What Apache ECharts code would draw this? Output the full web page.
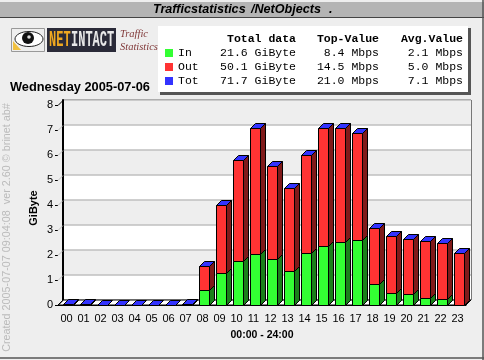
<!DOCTYPE html>
<html><head><meta charset="utf-8">
<script src="https://cdn.jsdelivr.net/npm/echarts@6/dist/echarts.min.js"></script>
<style>html,body{margin:0;padding:0;background:#eee}#c{width:484px;height:360px}</style>
</head><body><div id="c"></div>
<script>
const hours=['00','01','02','03','04','05','06','07','08','09','10','11','12','13','14','15','16','17','18','19','20','21','22','23'];
const inValues=[0.02,0.01,0,0,0,0,0,0.01,0.6,1.3,1.75,2.05,1.85,1.35,2.1,2.35,2.52,2.6,0.83,0.47,0.43,0.27,0.23,0.02];
const totValues=[0.06,0.05,0.01,0.01,0.01,0.01,0.01,0.05,1.55,4.0,5.8,7.1,5.55,4.7,6.0,7.08,7.1,6.9,3.1,2.78,2.66,2.55,2.47,2.07];
const yTicks=[0,1,2,3,4,5,6,7,8];
const legendHeader=['Total data','Top-Value','Avg.Value'];
const legendNames=['In','Out','Tot'];
const legendTotals=['21.6 GiByte','50.1 GiByte','71.7 GiByte'];
const legendTops=['8.4 Mbps','14.5 Mbps','21.0 Mbps'];
const legendAvgs=['2.1 Mbps','5.0 Mbps','7.1 Mbps'];
const legendColors=['#33ff33','#ff3333','#3333ff'];
const sideColors={g:'#1a801a',r:'#801a1a'};
const D=5;
const mono='"Liberation Mono","DejaVu Sans Mono",monospace';
const sans='"Liberation Sans",Arial,sans-serif';

function box(x0,y0,x1,y1,fill,side){
  const out=[];
  out.push({type:'polygon',shape:{points:[[x1,y0],[x1+D,y0-D],[x1+D,y1-D],[x1,y1]]},style:{fill:side,stroke:'#000',lineWidth:1}});
  out.push({type:'rect',shape:{x:x0,y:y0,width:x1-x0,height:y1-y0},style:{fill:fill,stroke:'#000',lineWidth:1}});
  return out;
}
function barItem(p,api){
  const i=api.value(0),inV=api.value(1),tot=api.value(2);
  const c0=api.coord([i,0]),cI=api.coord([i,inV]),cT=api.coord([i,tot]);
  const x0=Math.round(c0[0]-3.5)+.5,x1=x0+10;
  const y0=Math.round(c0[1])+.5,yI=Math.round(cI[1])+.5,yT=Math.round(cT[1])+.5;
  let ch=[];
  if(yI<y0) ch=ch.concat(box(x0,yI,x1,y0,legendColors[0],sideColors.g));
  if(yT<yI) ch=ch.concat(box(x0,yT,x1,yI,legendColors[1],sideColors.r));
  ch.push({type:'polygon',shape:{points:[[x0,yT],[x0+D,yT-D],[x1+D,yT-D],[x1,yT]]},style:{fill:legendColors[2],stroke:'#000',lineWidth:1}});
  return {type:'group',children:ch};
}
function tickItem(p,api){
  const c=api.coord([0,api.value(0)]);
  const x=p.coordSys.x,y=Math.round(c[1])+.5;
  const top=api.value(0)===8||api.value(0)===0;
  return {type:'group',children:[
    {type:'line',shape:{x1:x-3,y1:y,x2:x,y2:y},style:{stroke:'#000',lineWidth:1}},
    {type:'line',shape:{x1:x,y1:y,x2:x+D,y2:y-D},style:{stroke:top?'#000':'#bfbfbf',lineWidth:1}}
  ]};
}
function floorItem(p,api){
  const c=p.coordSys,y=c.y+c.height;
  return {type:'polygon',shape:{points:[[c.x,y],[c.x+D,y-D],[c.x+c.width+D,y-D],[c.x+c.width,y]]},style:{fill:'#fff',stroke:'#000',lineWidth:1}};
}
const texts=[];
function T(x,y,s,o){texts.push({type:'text',x:x,y:y,style:Object.assign({text:s,fill:'#000',font:'11.5px '+mono,textVerticalAlign:'middle'},o||{})});}
const colRight=[296,379,463];
legendHeader.forEach((h,i)=>T(colRight[i],39,h,{font:'bold 11.5px '+mono,textAlign:'right'}));
legendNames.forEach((n,r)=>{
  const y=53+r*14;
  T(178,y,n);
  T(colRight[0],y,legendTotals[r],{textAlign:'right'});
  T(colRight[1],y,legendTops[r],{textAlign:'right'});
  T(colRight[2],y,legendAvgs[r],{textAlign:'right'});
});
const titleFont='italic bold 12.6px '+sans;
const graphic=[
 {type:'rect',shape:{x:0,y:2,width:484,height:15},style:{fill:'#b4b4b4'}},
 {type:'line',shape:{x1:0,y1:17.5,x2:484,y2:17.5},style:{stroke:'#444',lineWidth:1}},
 {type:'line',shape:{x1:0,y1:358,x2:484,y2:358},style:{stroke:'#555',lineWidth:1.5}},
 {type:'line',shape:{x1:483,y1:0,x2:483,y2:360},style:{stroke:'#555',lineWidth:1.5}},
 {type:'text',x:153,y:10,style:{text:'Trafficstatistics',font:titleFont,fill:'#000',textVerticalAlign:'middle'}},
 {type:'text',x:251,y:10,style:{text:'/NetObjects',font:titleFont,fill:'#000',textVerticalAlign:'middle'}},
 {type:'text',x:329,y:10,style:{text:'.',font:titleFont,fill:'#000',textVerticalAlign:'middle'}},
 // logo
 {type:'rect',shape:{x:11.5,y:28.5,width:33,height:23},style:{fill:'#eee',stroke:'#999',lineWidth:1}},
 {type:'ellipse',shape:{cx:29,cy:39,rx:14,ry:7.5},style:{fill:'#fff',stroke:'#222',lineWidth:1}},
 {type:'circle',shape:{cx:28,cy:38,r:6},style:{fill:'#111'}},
 {type:'circle',shape:{cx:29,cy:37,r:1.8},style:{fill:'#ddd'}},
 {type:'polygon',shape:{points:[[13,50],[13,41],[21,50]]},style:{fill:'#f0c040'}},
 {type:'rect',shape:{x:47,y:28,width:69,height:24},style:{fill:'#2a2a38'}},
 {type:'text',x:49,y:40,scaleY:1.9,style:{text:'NET',font:'bold 12px '+mono,fill:'#f0a820',textVerticalAlign:'middle'}},
 {type:'text',x:71,y:40,scaleY:1.9,style:{text:'INTACT',font:'bold 12px '+mono,fill:'#e8e8e8',textVerticalAlign:'middle'}},
 {type:'text',x:120,y:34,style:{text:'Traffic',font:'italic 10.5px "Liberation Serif",serif',fill:'#803838',textVerticalAlign:'middle'}},
 {type:'text',x:120,y:47,style:{text:'Statistics',font:'italic 10.5px "Liberation Serif",serif',fill:'#803838',textVerticalAlign:'middle'}},
 // date
 {type:'text',x:10,y:87,style:{text:'Wednesday 2005-07-06',font:'bold 12.8px '+sans,fill:'#000',textVerticalAlign:'middle'}},
 // legend box
 {type:'rect',shape:{x:160,y:28,width:311,height:67},style:{fill:'#555'}},
 {type:'rect',shape:{x:158,y:26,width:310,height:66},style:{fill:'#fff'}},
 ...legendColors.map((c,r)=>({type:'rect',shape:{x:165,y:49+r*14,width:8,height:8},style:{fill:c}})),
 ...texts,
 // side text
 {type:'text',x:7,y:227.5,rotation:Math.PI/2,style:{text:'Created 2005-07-07 09:04:08  ver 2.60 \u00a9 brinet ab#',font:'10.8px '+sans,fill:'#bbb',textAlign:'center',textVerticalAlign:'middle'}},
 // y axis title
 {type:'text',x:34,y:208,rotation:Math.PI/2,style:{text:'GiByte',font:'bold 11px '+sans,fill:'#000',textAlign:'center',textVerticalAlign:'middle'}}
];
const chart=echarts.init(document.getElementById('c'));
chart.setOption({
 animation:false,backgroundColor:'#eee',
 graphic:graphic.map(g=>Object.assign({silent:true},g)),
 grid:[
  {left:63,top:100,width:408,height:200,show:true,backgroundColor:'transparent',borderColor:'#000',borderWidth:1},
  {left:58,top:105,width:408,height:200,show:false}
 ],
 xAxis:[
  {gridIndex:0,type:'category',data:hours,show:false},
  {gridIndex:1,type:'category',data:hours,axisLine:{show:true,onZero:false,lineStyle:{color:'#000',width:1}},axisTick:{show:false},
   axisLabel:{interval:0,color:'#000',fontFamily:sans,fontSize:11,margin:8,hideOverlap:false},
   name:'00:00 - 24:00',nameLocation:'middle',nameGap:25,nameTextStyle:{fontFamily:sans,fontWeight:'bold',fontSize:10.5,color:'#000'}}
 ],
 yAxis:[
  {gridIndex:0,type:'value',min:0,max:8,interval:1,axisLabel:{show:false},axisLine:{show:true,lineStyle:{color:'#000',width:2}},axisTick:{show:false},
   splitArea:{show:true,areaStyle:{color:['#ffffff','#eeeeee']}},
   splitLine:{show:true,lineStyle:{color:'#bfbfbf',width:1.5}}},
  {gridIndex:1,type:'value',min:0,max:8,interval:1,splitLine:{show:false},axisLine:{show:false},axisTick:{show:false},
   axisLabel:{color:'#000',fontFamily:sans,fontSize:11,margin:5}}
 ],
 series:[
  {type:'custom',xAxisIndex:1,yAxisIndex:1,renderItem:floorItem,data:[0],silent:true,z:2,clip:false},
  {type:'custom',xAxisIndex:1,yAxisIndex:1,renderItem:tickItem,data:yTicks.map(v=>[v]),encode:{y:0},silent:true,z:2,clip:false},
  {type:'custom',name:'bars',xAxisIndex:1,yAxisIndex:1,renderItem:barItem,data:hours.map((h,i)=>[i,inValues[i],totValues[i]]),encode:{x:0,y:2},silent:true,z:3,clip:false}
 ]
});
</script></body></html>
